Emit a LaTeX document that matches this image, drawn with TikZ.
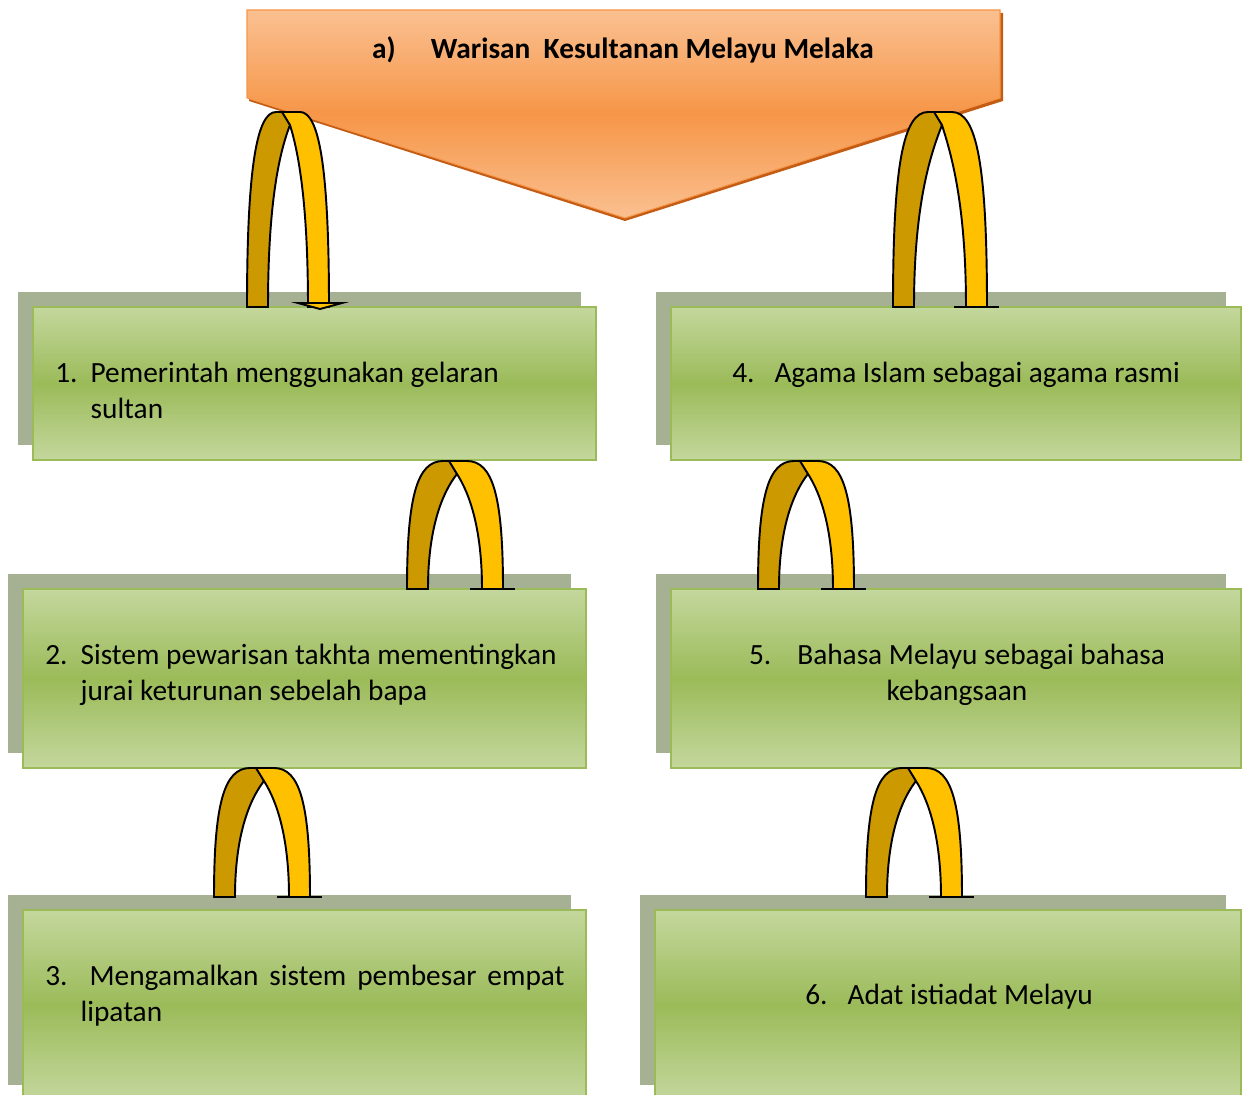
\documentclass[tikz,border=0pt]{standalone}
\usepackage{fontspec}
\setmainfont{Carlito}
\usetikzlibrary{shadows}

\definecolor{boxgreen}{RGB}{155,187,89}
\definecolor{boxlight}{RGB}{196,215,157}
\definecolor{boxshadow}{RGB}{166,176,146}
\definecolor{headlight}{RGB}{250,192,145}
\definecolor{headmid}{RGB}{246,150,72}
\definecolor{headedge}{RGB}{196,92,20}
\definecolor{archdark}{RGB}{204,153,0}
\definecolor{archlight}{RGB}{255,192,0}

\tikzset{
  itembox/.style={draw=boxgreen, line width=1.2pt, inner sep=0pt,
    top color=boxlight, bottom color=boxlight, middle color=boxgreen,
    drop shadow={shadow xshift=-0.3cm, shadow yshift=0.3cm, fill=boxshadow, opacity=1}},
  itemtext/.style={font=\fontsize{16.7}{20.6}\selectfont, inner sep=0pt},
  leftleg/.style={draw=black, line width=1.1pt, fill=archdark},
  rightleg/.style={draw=black, line width=1.1pt, fill=archlight},
  foot/.style={draw=black, line width=1.1pt}
}

% ribbon arch: centre x, top y, bottom y, half width
\newcommand{\archband}[4]{%
  \pgfmathsetmacro{\archh}{#3-#2}%
  \filldraw[leftleg] ({#1-#4},#3) .. controls ({#1-#4},{#2+0.28*\archh}) and ({#1-#4+10},#2) .. ({#1-12},#2)
    -- ({#1-5},#2) -- ({#1+2},{#2+13}) .. controls ({#1-8},{#2+0.2*\archh}) and ({#1-#4+21},{#2+0.45*\archh}) .. ({#1-#4+21},#3) -- cycle;
  \filldraw[rightleg] ({#1-6},#2) -- ({#1+12},#2) .. controls ({#1+#4-10},#2) and ({#1+#4},{#2+0.28*\archh}) .. ({#1+#4},#3)
    -- ({#1+#4-21},#3) .. controls ({#1+#4-21},{#2+0.45*\archh}) and ({#1+10},{#2+0.2*\archh}) .. ({#1+2},{#2+13}) -- cycle;
}

\begin{document}
\begin{tikzpicture}[x=0.02cm, y=-0.02cm]
\useasboundingbox (0,0) rectangle (1242,1095);

% boxes
\node[itembox, minimum width=11.26cm, minimum height=3.06cm] (b1) at (314.5,383.5) {};
\node[itembox, minimum width=11.26cm, minimum height=3.58cm] (b2) at (304.5,678.5) {};
\node[itembox, minimum width=11.26cm, minimum height=3.8cm] (b3) at (304.5,1005) {};
\node[itembox, minimum width=11.4cm, minimum height=3.06cm] (b4) at (956,383.5) {};
\node[itembox, minimum width=11.4cm, minimum height=3.58cm] (b5) at (956,678.5) {};
\node[itembox, minimum width=11.72cm, minimum height=3.8cm] (b6) at (948,1005) {};

% texts
\node[itemtext, anchor=base west] (t1) at (55,382) {\begin{tabular}[t]{@{}l@{\hspace{0.26cm}}l@{}}1. & Pemerintah menggunakan gelaran\\ & sultan\end{tabular}};
\node[itemtext, anchor=base west] (t2) at (45,664) {\begin{tabular}[t]{@{}l@{\hspace{0.26cm}}l@{}}2. & Sistem pewarisan takhta mementingkan\\ & jurai keturunan sebelah bapa\end{tabular}};
\node[itemtext, anchor=base west] (t3) at (45,985) {\begin{tabular}[t]{@{}l@{\hspace{0.26cm}}l@{}}3. & \hspace*{0.18cm}\makebox[9.5cm][s]{Mengamalkan sistem pembesar empat}\\ & lipatan\end{tabular}};
\node[itemtext, anchor=base] (t4) at (956,382) {4.\hspace{0.4cm}Agama Islam sebagai agama rasmi};
\node[itemtext, anchor=base] (t5) at (957,664) {\begin{tabular}[t]{@{}c@{}}5.\hspace{0.52cm}Bahasa Melayu sebagai bahasa\\kebangsaan\end{tabular}};
\node[itemtext, anchor=base] (t6) at (949,1004) {6.\hspace{0.4cm}Adat istiadat Melayu};

% heading
\fill[headedge] (249,13) -- (1003,13) -- (1003,101) -- (625,221) -- (249,101) -- cycle;
\shadedraw[top color=headlight, bottom color=headlight, middle color=headmid, draw=headmid, line width=0.6pt]
  (247,10) -- (1000,10) -- (1000,98) -- (625,218) -- (247,98) -- cycle;
\node[font=\fontsize{16.7}{20.6}\selectfont\bfseries, inner sep=0pt, anchor=base] (title) at (623,59)
  {a)\hspace{0.7cm}Warisan\ \ Kesultanan Melayu Melaka};

% arches
\archband{288}{112}{307}{41}
\filldraw[rightleg] (298,303) -- (342,303) -- (320,309) -- cycle;
\archband{940}{112}{307}{47}
\draw[foot] (954,307) -- (999,307);
\archband{455}{461}{589}{48}
\draw[foot] (470,589) -- (515,589);
\archband{806}{461}{589}{48}
\draw[foot] (821,589) -- (866,589);
\archband{262}{768}{897}{48}
\draw[foot] (277,897) -- (322,897);
\archband{914}{768}{897}{48}
\draw[foot] (929,897) -- (974,897);
\end{tikzpicture}
\end{document}
